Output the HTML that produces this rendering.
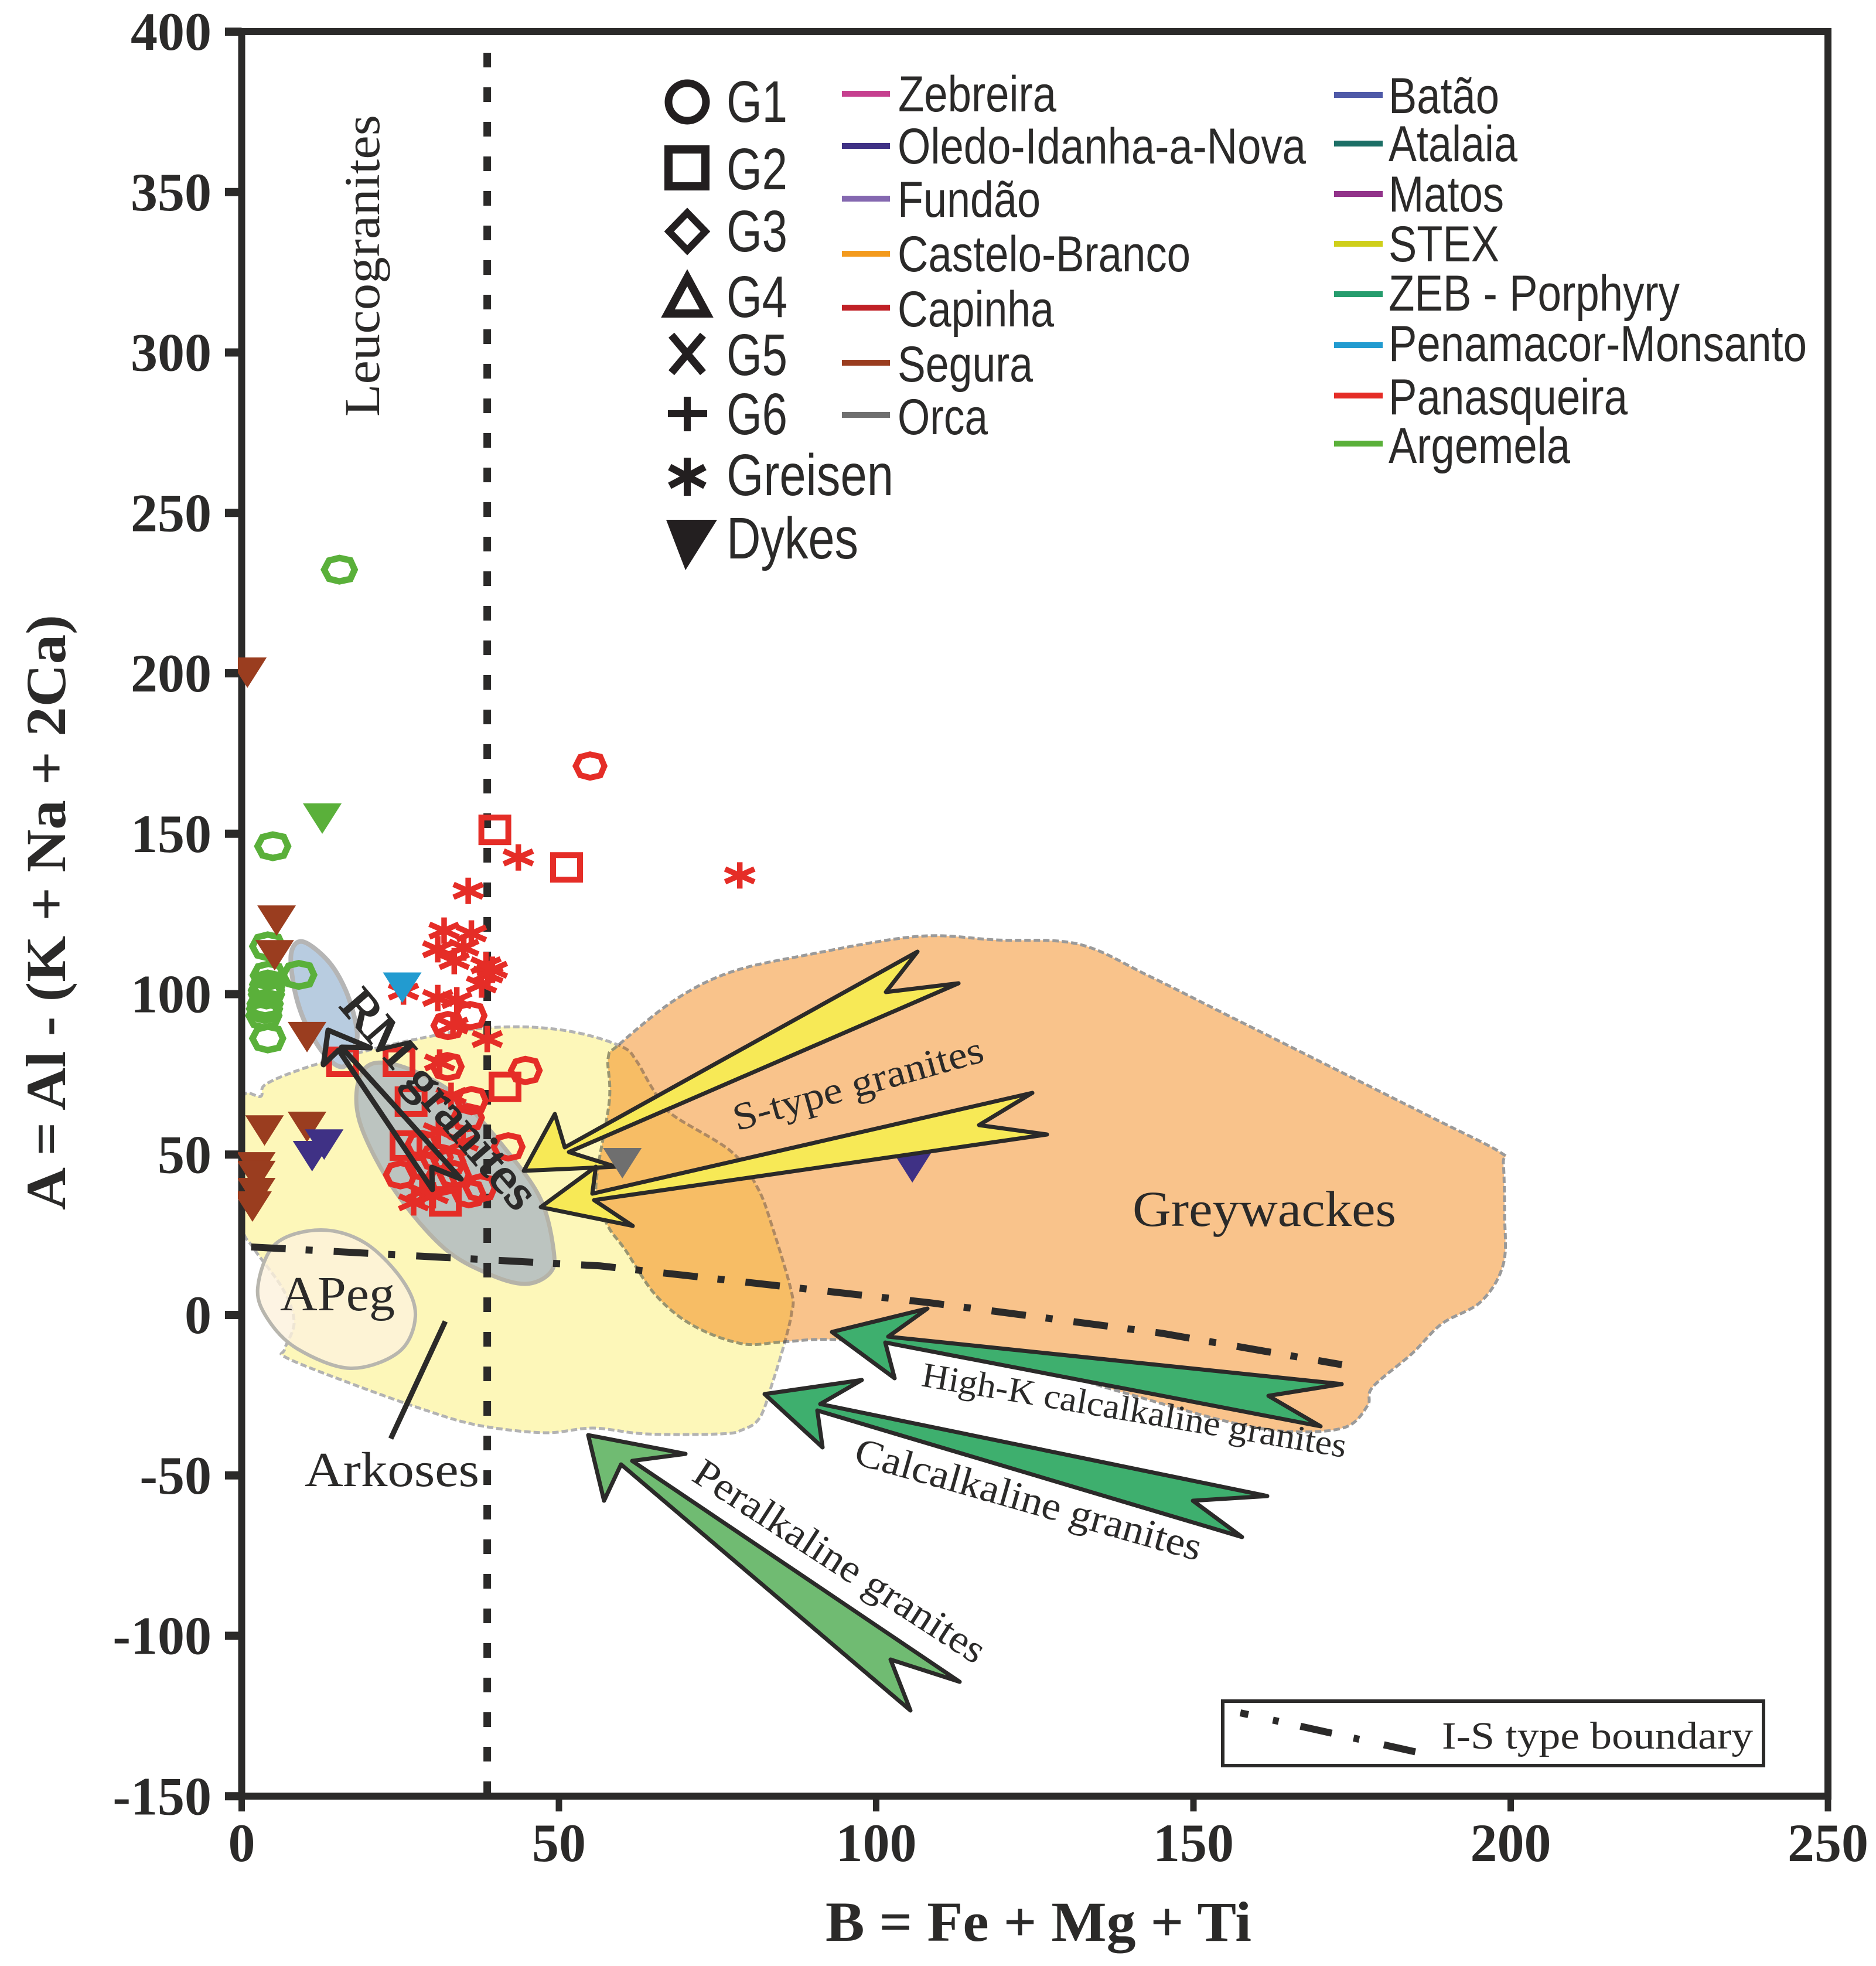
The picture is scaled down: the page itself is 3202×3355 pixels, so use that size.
<!DOCTYPE html>
<html lang="en">
<head>
<meta charset="utf-8">
<title>A-B granite diagram</title>
<style>
html,body{margin:0;padding:0;background:#fff;}
svg{display:block;}
text{fill:#2b2a29;}
.serif{font-family:"Liberation Serif",serif;}
.bold{font-family:"Liberation Serif",serif;font-weight:bold;}
.sans{font-family:"Liberation Sans",sans-serif;}
.region{stroke-linejoin:round;}
.arrow{stroke:#2b2a29;stroke-width:7;stroke-linejoin:round;}
</style>
</head>
<body>
<svg id="chart" xmlns="http://www.w3.org/2000/svg" width="3202" height="3355" viewBox="0 0 3202 3355">
  <defs>
    <clipPath id="plot-clip"><rect x="406" y="48" width="2720" height="3024"/></clipPath>
  </defs>
  <rect x="0" y="0" width="3202" height="3355" fill="#ffffff"/>

  <g id="regions">
    <path class="region smooth" fill="#f9c38b" stroke="#9a9a9a" stroke-width="5" stroke-dasharray="11 5" data-pts="1038,1806 1056,1783 1151,1707 1247,1659 1375,1630 1566,1598 1700,1604 1840,1611 1960,1665 2100,1735 2300,1835 2450,1910 2560,1966 2566,1985 2568,2070 2566,2157 2528,2221 2461,2259 2410,2310 2343,2367 2334,2399 2295,2436 2200,2443 2091,2425 1902,2372 1650,2300 1429,2286 1336,2290 1266,2293 1183,2262 1119,2210 1068,2134 1036,2089 1017,2026 1040,1879"></path>
    <path class="region smooth" style="mix-blend-mode:multiply" fill="#fdf7b9" stroke="#b3b3b3" stroke-width="5" stroke-dasharray="11 5" data-pts="414,1873 445,1871 454,1850 528,1820 642,1789 732,1769 821,1755 910,1753 993,1764 1063,1787 1086,1810 1114,1858 1146,1901 1248,1965 1293,2027 1318,2093 1351,2205 1351,2241 1339,2292 1319,2358 1297,2419 1267,2440 1229,2447 1102,2447 1012,2437 929,2445 815,2432 719,2404 591,2358 489,2317 486,2302 502,2256 483,2200 432,2129 414,2093 410,1980"></path>
    <path class="region smooth" fill="#fdf1dc" fill-opacity="0.8" stroke="#b8b6ae" stroke-width="6" data-pts="440,2197 470,2123 547,2099 623,2121 687,2185 709,2246 681,2307 598,2335 508,2302 457,2251"></path>
    <path class="region smooth" fill="#b8cce0" stroke="#b5b5b5" stroke-width="8" data-pts="517,1607 497,1627 503,1690 523,1750 557,1803 587,1820 607,1783 608,1750 590,1690 560,1640"></path>
    <path class="region smooth" fill="#bcc4c0" stroke="#b5b3a8" stroke-width="7" data-pts="636,1815 610,1853 617,1924 674,2032 757,2129 834,2174 897,2191 939,2172 945,2134 923,2047 866,1965 783,1873 700,1825"></path>
  </g>

  <g id="axes"></g>
  <g id="guides"></g>
  <g id="marks" clip-path="url(#plot-clip)"></g>

  <g id="arrows">
    <polygon class="arrow" fill="#f7e956" points="894,1998 947,1901 964,1958 1566,1624 1512,1693 1636,1678 971,1966 1051,1991"/>
    <polygon class="arrow" fill="#f7e956" points="923,2060 1017,1991 1011,2037 1762,1865 1671,1920 1787,1936 1014,2048 1080,2092"/>
    <polygon class="arrow" fill="#3eaf6e" points="1420,2273 1583,2233 1516,2281 2290,2362 2165,2382 2254,2434 1511,2291 1527,2352"/>
    <polygon class="arrow" fill="#3eaf6e" points="1305,2379 1471,2355 1400,2396 2163,2553 2036,2561 2120,2623 1395,2407 1404,2470"/>
    <polygon class="arrow" fill="#70bb72" points="1004,2449 1170,2481 1079,2493 1638,2870 1520,2832 1554,2919 1060,2499 1031,2561"/>
    <polygon fill="none" stroke="#2b2a29" stroke-width="9" stroke-linejoin="round" points="560,1758 632,1788 583,1787 787,2012 737,1992 738,2030 578,1792 552,1817"/>
    <line x1="760" y1="2255" x2="667" y2="2455" stroke="#2b2a29" stroke-width="9"/>
  </g>

  <g id="marks-top"></g>

  <g id="field-labels">
    <text class="serif" font-size="86" textLength="515" lengthAdjust="spacingAndGlyphs" transform="translate(647 711) rotate(-90)">Leucogranites</text>
    <text class="serif" x="478" y="2236" font-size="84" textLength="196" lengthAdjust="spacingAndGlyphs">APeg</text>
    <text class="serif" x="520" y="2536" font-size="84" textLength="298" lengthAdjust="spacingAndGlyphs">Arkoses</text>
    <text class="serif" x="1933" y="2092" font-size="86" textLength="450" lengthAdjust="spacingAndGlyphs">Greywackes</text>
    <text class="serif" font-size="66" textLength="441" lengthAdjust="spacingAndGlyphs" transform="translate(1258 1930) rotate(-15.7)">S-type granites</text>
    <text class="serif" font-size="60" textLength="734" lengthAdjust="spacingAndGlyphs" transform="translate(1571 2365) rotate(9.6)">High-K calcalkaline granites</text>
    <text class="serif" font-size="68" textLength="612" lengthAdjust="spacingAndGlyphs" transform="translate(1455 2497) rotate(15.8)">Calcalkaline granites</text>
    <text class="serif" font-size="68" textLength="580" lengthAdjust="spacingAndGlyphs" transform="translate(1178 2525) rotate(33)">Peralkaline granites</text>
    <text class="serif" font-size="84" textLength="466" lengthAdjust="spacingAndGlyphs" stroke="#2b2a29" stroke-width="2.5" transform="translate(577 1717) rotate(49.2)">RM granites</text>
  </g>

  <g id="symbol-legend" fill="none" stroke="#231f20">
    <circle cx="1173" cy="174" r="32" stroke-width="13"/>
    <rect x="1141" y="255" width="63" height="63" stroke-width="14"/>
    <polygon points="1173,363 1204,395 1173,427 1142,395" stroke-width="12"/>
    <polygon points="1173,474 1206,535 1140,535" stroke-width="14"/>
    <path d="M1146 572L1200 636M1200 572L1146 636" stroke-width="13"/>
    <path d="M1173 677V736M1140 706H1207" stroke-width="12"/>
    <path d="M1173 781V846M1143 797L1203 829M1203 797L1143 829" stroke-width="12"/>
    <polygon points="1137,887 1224,887 1170,973" fill="#231f20" stroke="none"/>
  </g>
  <g id="symbol-legend-labels" class="sans" font-size="100">
    <text class="sans" x="1240" y="208" textLength="104" lengthAdjust="spacingAndGlyphs">G1</text>
    <text class="sans" x="1240" y="323" textLength="104" lengthAdjust="spacingAndGlyphs">G2</text>
    <text class="sans" x="1240" y="429" textLength="104" lengthAdjust="spacingAndGlyphs">G3</text>
    <text class="sans" x="1240" y="541" textLength="104" lengthAdjust="spacingAndGlyphs">G4</text>
    <text class="sans" x="1240" y="640" textLength="104" lengthAdjust="spacingAndGlyphs">G5</text>
    <text class="sans" x="1240" y="741" textLength="104" lengthAdjust="spacingAndGlyphs">G6</text>
    <text class="sans" x="1240" y="845" textLength="285" lengthAdjust="spacingAndGlyphs">Greisen</text>
    <text class="sans" x="1240" y="953" textLength="225" lengthAdjust="spacingAndGlyphs">Dykes</text>
  </g>

  <g id="location-legend-1" font-size="86">
    <rect x="1437" y="155" width="82" height="10" fill="#c6408f"/>
    <text class="sans" x="1533" y="190" textLength="270" lengthAdjust="spacingAndGlyphs">Zebreira</text>
    <rect x="1437" y="244" width="82" height="10" fill="#3f3185"/>
    <text class="sans" x="1532" y="279" textLength="697" lengthAdjust="spacingAndGlyphs">Oledo-Idanha-a-Nova</text>
    <rect x="1437" y="334" width="82" height="10" fill="#8468b0"/>
    <text class="sans" x="1532" y="370" textLength="244" lengthAdjust="spacingAndGlyphs">Fundão</text>
    <rect x="1437" y="428" width="82" height="10" fill="#f39a1d"/>
    <text class="sans" x="1532" y="463" textLength="500" lengthAdjust="spacingAndGlyphs">Castelo-Branco</text>
    <rect x="1437" y="520" width="82" height="10" fill="#c02026"/>
    <text class="sans" x="1532" y="557" textLength="267" lengthAdjust="spacingAndGlyphs">Capinha</text>
    <rect x="1437" y="614" width="82" height="10" fill="#9a3d1f"/>
    <text class="sans" x="1532" y="651" textLength="231" lengthAdjust="spacingAndGlyphs">Segura</text>
    <rect x="1437" y="703" width="82" height="10" fill="#6f6f6f"/>
    <text class="sans" x="1532" y="741" textLength="154" lengthAdjust="spacingAndGlyphs">Orca</text>
  </g>
  <g id="location-legend-2" font-size="86">
    <rect x="2277" y="157" width="83" height="10" fill="#4f5aa8"/>
    <text class="sans" x="2370" y="193" textLength="189" lengthAdjust="spacingAndGlyphs">Batão</text>
    <rect x="2277" y="240" width="83" height="10" fill="#1c6f66"/>
    <text class="sans" x="2370" y="275" textLength="220" lengthAdjust="spacingAndGlyphs">Atalaia</text>
    <rect x="2277" y="326" width="83" height="10" fill="#92338a"/>
    <text class="sans" x="2370" y="361" textLength="197" lengthAdjust="spacingAndGlyphs">Matos</text>
    <rect x="2277" y="411" width="83" height="10" fill="#cfcf1a"/>
    <text class="sans" x="2370" y="446" textLength="189" lengthAdjust="spacingAndGlyphs">STEX</text>
    <rect x="2277" y="497" width="83" height="10" fill="#259c6d"/>
    <text class="sans" x="2370" y="530" textLength="497" lengthAdjust="spacingAndGlyphs">ZEB - Porphyry</text>
    <rect x="2277" y="584" width="83" height="10" fill="#229bd0"/>
    <text class="sans" x="2370" y="616" textLength="714" lengthAdjust="spacingAndGlyphs">Penamacor-Monsanto</text>
    <rect x="2277" y="670" width="83" height="10" fill="#e52d27"/>
    <text class="sans" x="2370" y="707" textLength="408" lengthAdjust="spacingAndGlyphs">Panasqueira</text>
    <rect x="2277" y="752" width="83" height="10" fill="#5ab03a"/>
    <text class="sans" x="2370" y="790" textLength="310" lengthAdjust="spacingAndGlyphs">Argemela</text>
  </g>

  <g id="boundary-key">
    <rect x="2087" y="2903" width="923" height="110" fill="#ffffff" stroke="#2b2a29" stroke-width="6"/>
    <line x1="2117" y1="2923" x2="2418" y2="2990" stroke="#2b2a29" stroke-width="12" stroke-dasharray="14 43 10 38 55 38 10 43 55"/>
    <text class="serif" x="2461" y="2984" font-size="66" textLength="531" lengthAdjust="spacingAndGlyphs">I-S type boundary</text>
  </g>

  <text class="bold" x="1409" y="3312" font-size="96" textLength="727" lengthAdjust="spacingAndGlyphs">B = Fe + Mg + Ti</text>
  <text class="bold" font-size="96" textLength="1016" lengthAdjust="spacingAndGlyphs" transform="translate(111 2065) rotate(-90)">A = Al - (K + Na + 2Ca)</text>
</svg>

<script>
// ---- chart values (data units) ----
const xTicks = [0, 50, 100, 150, 200, 250];
const yTicks = [-150, -100, -50, 0, 50, 100, 150, 200, 250, 300, 350, 400];

const leucograniteBoundary = 38.7;
const isBoundaryB = [1.5, 56.5, 108.5, 145, 173.4];
const isBoundaryA = [21.2, 15.3, 3.8, -5.7, -15.5];

const argemelaG1B = [15.4, 4.9, 4.1, 9.0, 4.2, 4.1, 3.9, 3.9, 3.7, 3.6, 3.5, 4.1];
const argemelaG1A = [232.3, 146.1, 114.9, 106.0, 105.8, 103.0, 101.2, 99.9, 97.0, 95.4, 93.3, 86.2];

const panasqueiraG1B = [54.9, 32.5, 36.0, 32.4, 44.7, 36.2, 35.6, 42.0, 25.0, 28.4, 30.7, 32.7, 31.2, 35.8, 37.6, 33.5, 28.4];
const panasqueiraG1A = [171.1, 90.2, 93.3, 77.4, 76.2, 66.8, 61.5, 52.4, 43.7, 53.1, 49.1, 47.7, 41.5, 37.8, 39.6, 43.7, 46.4];

const panasqueiraG2B = [39.9, 51.2, 15.9, 24.8, 26.7, 41.5, 25.9, 32.1];
const panasqueiraG2A = [151.2, 139.5, 78.9, 78.9, 66.5, 71.1, 52.8, 35.4];

const panasqueiraGreisenB = [43.6, 35.7, 78.5, 31.9, 36.2, 30.9, 35.0, 33.5, 38.5, 38.8, 37.8, 39.5, 25.5, 30.9, 33.9, 33.3, 38.7, 31.2, 27.1, 28.4, 30.2, 33.0, 31.0, 34.9];
const panasqueiraGreisenA = [142.6, 132.2, 137.0, 119.8, 118.9, 114.0, 114.5, 110.3, 109.0, 106.1, 103.0, 107.6, 100.8, 98.8, 98.1, 90.2, 86.0, 78.7, 35.1, 38.5, 37.3, 68.3, 57.3, 53.7];

const argemelaDykesB = [12.7];
const argemelaDykesA = [154.7];
const seguraDykesB = [0.9, 5.5, 5.2, 10.3, 3.6, 10.3, 2.3, 2.3, 2.3, 1.7];
const seguraDykesA = [200.2, 122.9, 112.1, 86.6, 57.5, 58.6, 46.0, 43.3, 38.0, 33.8];
const oledoDykesB = [11.1, 13.0, 105.7];
const oledoDykesA = [49.5, 53.1, 46.0];
const penamacorDykesB = [25.3];
const penamacorDykesA = [102.0];
const orcaDykesB = [60.0];
const orcaDykesA = [47.3];

// ---- axis functions ----
function xScale(v) { return 412.5 + v * 10.83; }
function yScale(v) { return 54 + (400 - v) * 5.475; }

const SVG_NS = 'http://www.w3.org/2000/svg';
const INK = '#2b2a29';
const RED = '#e52d27';
const GREEN = '#5ab03a';

function make(tag, parent, name) {
  const el = document.createElementNS(SVG_NS, tag);
  
  
  parent.appendChild(el);
  return el;
}

// ---- smooth outlines for the reference fields ----
document.querySelectorAll('.smooth').forEach(function (path) {
  const p = path.getAttribute('data-pts').trim().split(/\s+/).map(function (s) { return s.split(',').map(Number); });
  const n = p.length;
  let d = 'M' + p[0][0] + ' ' + p[0][1];
  for (let i = 0; i < n; i++) {
    const a = p[(i - 1 + n) % n], b = p[i], c = p[(i + 1) % n], e = p[(i + 2) % n];
    d += 'C' + (b[0] + (c[0] - a[0]) / 6).toFixed(1) + ' ' + (b[1] + (c[1] - a[1]) / 6).toFixed(1) + ' ' +
         (c[0] - (e[0] - b[0]) / 6).toFixed(1) + ' ' + (c[1] - (e[1] - b[1]) / 6).toFixed(1) + ' ' + c[0] + ' ' + c[1];
  }
  path.setAttribute('d', d + 'Z');
});

// ---- axes ----
const axes = document.getElementById('axes');
const frame = make('rect', axes, 'plot-frame');
frame.setAttribute('x', xScale(0));
frame.setAttribute('y', yScale(400));
frame.setAttribute('width', xScale(250) - xScale(0));
frame.setAttribute('height', yScale(-150) - yScale(400));
frame.setAttribute('fill', 'none');
frame.setAttribute('stroke', INK);
frame.setAttribute('stroke-width', '12');

xTicks.forEach(function (v) {
  const t = make('line', axes, 'x-tick-' + v);
  t.setAttribute('x1', xScale(v));
  t.setAttribute('x2', xScale(v));
  t.setAttribute('y1', yScale(-150));
  t.setAttribute('y2', yScale(-150) + 26);
  t.setAttribute('stroke', INK);
  t.setAttribute('stroke-width', '11');
  const l = make('text', axes, 'x-tick-label-' + v);
  l.setAttribute('class', 'bold');
  l.setAttribute('x', xScale(v));
  l.setAttribute('y', 3176);
  l.setAttribute('text-anchor', 'middle');
  l.setAttribute('font-size', '92');
  l.textContent = v;
});
yTicks.forEach(function (v) {
  const t = make('line', axes, 'y-tick-' + v);
  t.setAttribute('x1', 384);
  t.setAttribute('x2', xScale(0));
  t.setAttribute('y1', yScale(v));
  t.setAttribute('y2', yScale(v));
  t.setAttribute('stroke', INK);
  t.setAttribute('stroke-width', '14');
  const l = make('text', axes, 'y-tick-label-' + v);
  l.setAttribute('class', 'bold');
  l.setAttribute('x', 361);
  l.setAttribute('y', yScale(v) + 31);
  l.setAttribute('text-anchor', 'end');
  l.setAttribute('font-size', '92');
  l.textContent = v;
});

// ---- guide lines ----
const guides = document.getElementById('guides');
const leuco = make('line', guides, 'leucogranite-boundary');
leuco.setAttribute('x1', xScale(leucograniteBoundary));
leuco.setAttribute('x2', xScale(leucograniteBoundary));
leuco.setAttribute('y1', 90);
leuco.setAttribute('y2', yScale(-150));
leuco.setAttribute('stroke', INK);
leuco.setAttribute('stroke-width', '13');
leuco.setAttribute('stroke-dasharray', '25 34');

const isLine = make('polyline', guides, 'i-s-type-boundary');
isLine.setAttribute('points', isBoundaryB.map(function (b, i) { return xScale(b) + ',' + yScale(isBoundaryA[i]); }).join(' '));
isLine.setAttribute('fill', 'none');
isLine.setAttribute('stroke', INK);
isLine.setAttribute('stroke-width', '12');
isLine.setAttribute('stroke-dasharray', '59 34 12 36');

// ---- markers ----
function drawHex(parent, b, a, color, name) {
  const cx = xScale(b), cy = yScale(a);
  const big = color === GREEN;
  const rx = big ? 26 : 24.5, ry = big ? 20 : 20;
  const shape = [[-1, 0], [-0.68, -0.78], [0, -1], [0.72, -0.8], [1, 0], [0.72, 0.8], [0, 1], [-0.68, 0.78]];
  const el = make('polygon', parent, name);
  el.setAttribute('points', shape.map(function (s) { return (cx + s[0] * rx) + ',' + (cy + s[1] * ry); }).join(' '));
  el.setAttribute('fill', 'none');
  el.setAttribute('stroke', color);
  el.setAttribute('stroke-width', big ? '11' : '10');
}
function drawSquare(parent, b, a, color, name) {
  const el = make('rect', parent, name);
  el.setAttribute('x', xScale(b) - 23);
  el.setAttribute('y', yScale(a) - 21);
  el.setAttribute('width', 46);
  el.setAttribute('height', 42);
  el.setAttribute('fill', 'none');
  el.setAttribute('stroke', color);
  el.setAttribute('stroke-width', '10');
}
function drawStar(parent, b, a, color, name) {
  const cx = xScale(b), cy = yScale(a);
  const el = make('path', parent, name);
  el.setAttribute('d', 'M' + cx + ' ' + (cy - 22.5) + 'V' + (cy + 22.5) +
    'M' + (cx - 25) + ' ' + (cy - 11) + 'L' + (cx + 25) + ' ' + (cy + 11) +
    'M' + (cx + 25) + ' ' + (cy - 11) + 'L' + (cx - 25) + ' ' + (cy + 11));
  el.setAttribute('fill', 'none');
  el.setAttribute('stroke', color);
  el.setAttribute('stroke-width', '9.5');
}
function drawDown(parent, b, a, color, name) {
  const cx = xScale(b), cy = yScale(a);
  const el = make('polygon', parent, name);
  el.setAttribute('points', (cx - 33) + ',' + (cy - 26) + ' ' + (cx + 33) + ',' + (cy - 26) + ' ' + cx + ',' + (cy + 26));
  el.setAttribute('fill', color);
}
function series(draw, parent, xs, ys, color, name) {
  xs.forEach(function (b, i) { draw(parent, b, ys[i], color, name + '-' + (i + 1)); });
}

const marks = document.getElementById('marks');
series(drawHex, marks, argemelaG1B, argemelaG1A, GREEN, 'argemela-g1');
series(drawHex, marks, panasqueiraG1B, panasqueiraG1A, RED, 'panasqueira-g1');
series(drawSquare, marks, panasqueiraG2B, panasqueiraG2A, RED, 'panasqueira-g2');
series(drawStar, marks, panasqueiraGreisenB, panasqueiraGreisenA, RED, 'panasqueira-greisen');
series(drawDown, marks, argemelaDykesB, argemelaDykesA, GREEN, 'argemela-dyke');
series(drawDown, marks, seguraDykesB, seguraDykesA, '#9a3d1f', 'segura-dyke');
series(drawDown, marks, oledoDykesB, oledoDykesA, '#3f3185', 'oledo-dyke');
series(drawDown, marks, penamacorDykesB, penamacorDykesA, '#229bd0', 'penamacor-dyke');
series(drawDown, document.getElementById('marks-top'), orcaDykesB, orcaDykesA, '#6f6f6f', 'orca-dyke');
</script>
</body>
</html>
